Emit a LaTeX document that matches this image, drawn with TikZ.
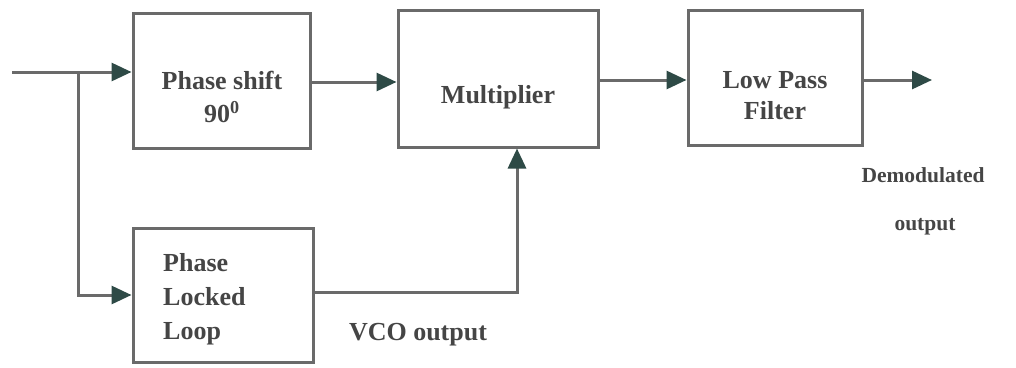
\documentclass[tikz,border=0pt]{standalone}
\usepackage{fontspec}
\setmainfont{Liberation Serif}
\usetikzlibrary{arrows.meta}
\definecolor{linec}{HTML}{6A6A6A}
\definecolor{tipc}{HTML}{2E4A46}
\definecolor{txtc}{HTML}{454545}
\begin{document}
\begin{tikzpicture}[x=1pt,y=-1pt,
  blk/.style={draw=linec,line width=3pt,rectangle,inner sep=0pt},
  lbl/.style={text=txtc,font=\bfseries\fontsize{26}{34}\selectfont,inner sep=0pt},
  sml/.style={lbl,font=\bfseries\fontsize{21.5}{26}\selectfont},
  conn/.style={draw=linec,line width=3pt},
  arr/.style={conn,-{Triangle[length=20pt,width=18pt,color=tipc]}}]
\useasboundingbox (0,0) rectangle (1016,367);
% boxes
\node[blk,minimum width=177pt,minimum height=135pt] (ps) at (221.5,80.5) {};
\node[blk,minimum width=200pt,minimum height=137pt] (mul) at (498,78.5) {};
\node[blk,minimum width=174pt,minimum height=135pt] (lpf) at (775,77.5) {};
\node[blk,minimum width=180pt,minimum height=134pt] (pll) at (223,295) {};
% labels
\node[lbl] (tps) at (222,80) {Phase shift};
\node[lbl] (tdeg) at (222,112) {90\textsuperscript{0}};
\node[lbl] (tmul) at (498,97) {Multiplier};
\node[lbl] (tlpf1) at (775,80) {Low Pass};
\node[lbl] (tlpf2) at (775,111) {Filter};
\node[lbl,align=left,anchor=west] (tpll) at (163,299) {Phase\\Locked\\Loop};
\node[lbl] (tvco) at (418,335) {VCO output};
\node[sml] (tdem) at (923,175) {Demodulated};
\node[sml] (tout) at (925,227) {output};
% connectors
\coordinate (in) at (12,72);
\coordinate (br) at (78,72);
\coordinate (out) at (932,80);
\draw[arr] (in) -- (in -| ps.west);
\draw[arr] (br) |- (pll.west);
\draw[arr] ([yshift=-1.5pt]ps.east) -- ([yshift=-1.5pt]ps.east -| mul.west);
\draw[arr] ([yshift=-1.5pt]mul.east) -- ([yshift=-1.5pt]mul.east -| lpf.west);
\draw[arr] ([yshift=-2.5pt]lpf.east) -- (out);
\draw[arr] ([yshift=3pt]pll.east) -| ([xshift=19pt]mul.south);
\end{tikzpicture}
\end{document}
